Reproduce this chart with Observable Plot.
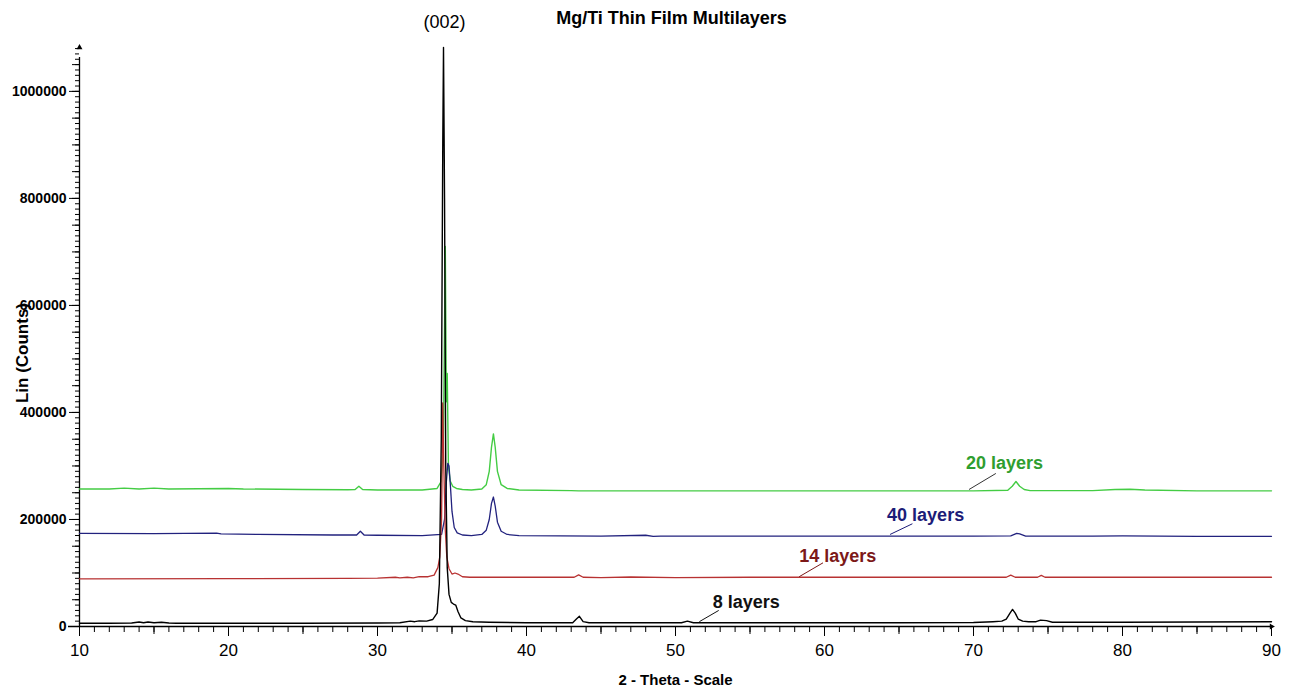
<!DOCTYPE html>
<html>
<head>
<meta charset="utf-8">
<script src="https://cdn.jsdelivr.net/npm/d3@7"></script>
<script src="https://cdn.jsdelivr.net/npm/@observablehq/plot@0.6"></script>
<style>
  body { margin: 0; background: #fff; }
  #chart svg { display: block; }
</style>
</head>
<body>
<div id="chart"></div>
<script>
// XRD scans of Mg/Ti multilayer films: 2θ (degrees) vs. linear counts.

// 8 layers
const theta8 = [10, 12, 13.5, 14, 14.3, 14.6, 15, 15.5, 16, 16.5, 20, 25, 30, 31.5, 32.2, 32.5, 32.8, 33.3, 33.7, 34.0, 34.15, 34.28, 34.38, 34.43, 34.5, 34.58, 34.68, 34.8, 34.95, 35.1, 35.25, 35.4, 35.6, 35.9, 36.4, 37.5, 40, 43.1, 43.35, 43.55, 43.8, 44.2, 47, 50.4, 50.8, 51.2, 55, 60, 65, 70, 71.3, 71.9, 72.2, 72.45, 72.62, 72.8, 73.0, 73.3, 73.7, 74.2, 74.5, 74.9, 75.3, 80, 85, 90];
const counts8 = [6000, 6000, 6500, 8500, 7000, 8500, 7000, 8000, 6500, 6000, 6000, 6000, 6500, 7000, 10000, 9000, 10500, 10000, 13000, 25000, 80000, 350000, 900000, 1082000, 800000, 300000, 110000, 60000, 45000, 42000, 40000, 28000, 16000, 11000, 9000, 8000, 7000, 7000, 14000, 19000, 9000, 7000, 7000, 7000, 10000, 7000, 7000, 7000, 7000, 7500, 9000, 10000, 14000, 25000, 32000, 25000, 14000, 10000, 9000, 9000, 12000, 11000, 8000, 8000, 8500, 9000];

// 14 layers
const theta14 = [10, 20, 28, 30, 31.2, 31.5, 32, 32.4, 32.8, 33.4, 33.8, 34.05, 34.18, 34.3, 34.38, 34.45, 34.55, 34.65, 34.8, 35.0, 35.2, 35.4, 35.7, 36.2, 40, 43.2, 43.5, 43.8, 45, 47, 50, 55, 60, 65, 70, 72.2, 72.5, 72.8, 74.3, 74.55, 74.8, 80, 90];
const counts14 = [89000, 89500, 90000, 90500, 92000, 91000, 92000, 91000, 93000, 93000, 96000, 110000, 130000, 200000, 418000, 300000, 180000, 130000, 108000, 98000, 100000, 98000, 93000, 92000, 92000, 92000, 96500, 92000, 91500, 92500, 91500, 92000, 92000, 92000, 92000, 92000, 96000, 92000, 92000, 95500, 92000, 92000, 92000];

// 40 layers
const theta40 = [10, 15, 19.2, 19.5, 22, 27, 28.6, 28.85, 29.1, 30, 33, 34.3, 34.5, 34.62, 34.72, 34.8, 34.9, 35.0, 35.15, 35.35, 35.7, 36.3, 37.0, 37.3, 37.5, 37.65, 37.78, 37.9, 38.05, 38.3, 38.7, 39.5, 45, 48, 48.5, 49, 50, 60, 70, 72.5, 72.9, 73.1, 73.5, 78, 80, 85, 90];
const counts40 = [174000, 173500, 174500, 173000, 172000, 171000, 171000, 178000, 171000, 170500, 170000, 172000, 200000, 270000, 305000, 300000, 260000, 215000, 185000, 175000, 171000, 170000, 172000, 180000, 200000, 230000, 242000, 225000, 195000, 178000, 172000, 170000, 169000, 170500, 168500, 169000, 169000, 169000, 169000, 169500, 174000, 173000, 169000, 169000, 169500, 168500, 168500];

// 20 layers
const theta20 = [10, 12, 13, 14, 15, 16, 20, 21, 25, 28, 28.5, 28.75, 29.0, 30, 33, 34.0, 34.25, 34.42, 34.55, 34.62, 34.68, 34.76, 34.88, 35.05, 35.3, 35.7, 36.3, 37.0, 37.3, 37.5, 37.65, 37.78, 37.9, 38.05, 38.3, 38.7, 39.5, 43, 43.5, 50, 60, 70, 72.3, 72.6, 72.85, 73.1, 73.4, 73.8, 78, 79.5, 80.5, 81.5, 85, 90];
const counts20 = [257000, 257000, 258500, 257000, 258500, 257000, 258000, 257000, 256000, 255500, 256000, 262000, 256000, 255000, 255000, 258000, 270000, 330000, 710000, 420000, 473000, 300000, 272000, 262000, 258000, 256000, 255000, 257000, 265000, 290000, 335000, 360000, 335000, 290000, 265000, 258000, 255000, 254000, 253500, 253500, 253500, 253500, 254500, 262000, 271000, 262000, 256000, 254000, 254000, 256000, 256500, 255000, 253500, 253500];

// Series labels and their leader lines
const labelNames = ["20 layers", "40 layers", "14 layers", "8 layers"];
const labelTheta = [69.5, 64.2, 58.3, 52.5];
const labelCounts = [306000, 207000, 131000, 45000];
const leaderTheta1 = [69.7, 64.4, 58.3, 51.6];
const leaderCounts1 = [256000, 172000, 93000, 9000];
const leaderTheta2 = [71.5, 65.9, 59.9, 52.9];
const leaderCounts2 = [286000, 192000, 119000, 30000];
const labelColors = ["#2f9e2f", "#1c1c78", "#7c1818", "#111111"];
const leaderColors = ["#333333", "#1c1c78", "#7c1818", "#111111"];

// Reflection annotation
const peakName = ["(002)"];
const peakTheta = [34.5];

const FONT = "'Liberation Sans', Arial, Helvetica, sans-serif";
const yMax = 1082000;

const rows = (xs, ys) => xs.map((x, i) => ({theta: x, counts: ys[i]}));
const labels = labelNames.map((name, i) => ({
  name, theta: labelTheta[i], counts: labelCounts[i], color: labelColors[i],
  x1: leaderTheta1[i], y1: leaderCounts1[i], x2: leaderTheta2[i], y2: leaderCounts2[i], lc: leaderColors[i]
}));

const chart = Plot.plot({
  width: 1297,
  height: 693,
  marginLeft: 79,
  marginRight: 26,
  marginTop: 47,
  marginBottom: 67,
  style: {fontFamily: FONT, background: "#fff", color: "#000", overflow: "visible"},
  x: {domain: [10, 90]},
  y: {domain: [0, yMax]},
  marks: [
    // y axis: minor, medium and labelled ticks
    Plot.axisY({ticks: d3.range(0, yMax, 10000), tickSize: 4, fill: "none", stroke: "#000", label: null}),
    Plot.axisY({ticks: d3.range(0, yMax, 50000), tickSize: 7, fill: "none", stroke: "#000", label: null}),
    Plot.axisY({ticks: d3.range(0, yMax, 200000), tickSize: 10, tickPadding: 3, tickFormat: d3.format("d"),
      fontSize: 14, fontWeight: "bold", stroke: "#000", fill: "#000", label: null}),
    // x axis: ticks every degree, longer every 5 and 10
    Plot.axisX({ticks: d3.range(10, 91, 1), tickSize: 6, fill: "none", stroke: "#000", label: null}),
    Plot.axisX({ticks: d3.range(10, 91, 5), tickSize: 8, fill: "none", stroke: "#000", label: null}),
    Plot.axisX({ticks: d3.range(10, 91, 10), tickSize: 10, tickPadding: 7, tickFormat: d3.format("d"),
      fontSize: 17, stroke: "#000", fill: "#000", label: null}),
    // axis lines with arrowheads
    Plot.ruleY([0], {x1: 10, x2: 90, insetLeft: -11, stroke: "#000", strokeWidth: 1.3}),
    Plot.ruleX([10], {y1: 0, y2: yMax, insetBottom: -10, stroke: "#000", strokeWidth: 1.3}),
    Plot.dot([{theta: 10, counts: yMax}], {x: "theta", y: "counts", symbol: "triangle", r: 2.2, fill: "#000", stroke: null}),
    Plot.dot([{theta: 90, counts: 0}], {x: "theta", y: "counts", symbol: "triangle", r: 2.2, rotate: 90, fill: "#000", stroke: null}),
    // scans
    Plot.line(rows(theta20, counts20), {x: "theta", y: "counts", stroke: "#44cc44", strokeWidth: 1.4}),
    Plot.line(rows(theta40, counts40), {x: "theta", y: "counts", stroke: "#22227e", strokeWidth: 1.3}),
    Plot.line(rows(theta14, counts14), {x: "theta", y: "counts", stroke: "#b83232", strokeWidth: 1.3}),
    Plot.line(rows(theta8, counts8), {x: "theta", y: "counts", stroke: "#000", strokeWidth: 1.4}),
    // labels
    Plot.link(labels, {x1: "x1", y1: "y1", x2: "x2", y2: "y2", stroke: "lc", strokeWidth: 1}),
    Plot.text(labels, {x: "theta", y: "counts", text: "name", fill: "color", textAnchor: "start",
      lineAnchor: "middle", fontSize: 18, fontWeight: "bold"}),
    Plot.text(peakName, {x: peakTheta, frameAnchor: "top", lineAnchor: "middle", dy: -25, text: d => d, fontSize: 18}),
    // titles
    Plot.text(["Mg/Ti Thin Film Multilayers"], {frameAnchor: "top", textAnchor: "middle", lineAnchor: "middle",
      dy: -29, dx: -4, fontSize: 18, fontWeight: "bold"}),
    Plot.text(["2 - Theta - Scale"], {frameAnchor: "bottom", textAnchor: "middle", lineAnchor: "middle",
      dy: 54, fontSize: 15, fontWeight: "bold"}),
    Plot.text(["Lin (Counts)"], {frameAnchor: "left", textAnchor: "middle", lineAnchor: "middle",
      dx: -57, dy: 16, rotate: -90, fontSize: 17, fontWeight: "bold"})
  ]
});

document.getElementById("chart").append(chart);
</script>
</body>
</html>
